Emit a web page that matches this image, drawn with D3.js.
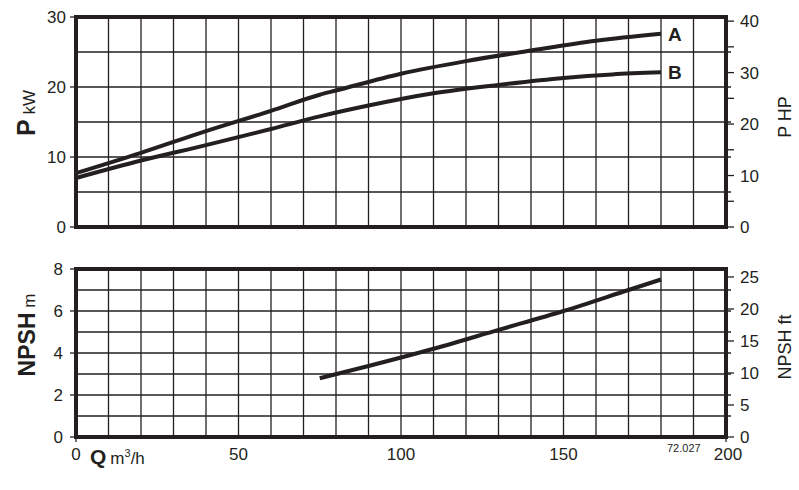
<!DOCTYPE html>
<html>
<head>
<meta charset="utf-8">
<script src="https://cdn.jsdelivr.net/npm/d3@7"></script>
<style>
  html, body { margin: 0; padding: 0; background: #fff; }
  svg { display: block; font-family: "Liberation Sans", Arial, Helvetica, sans-serif; }
</style>
</head>
<body>
<svg id="chart" width="799" height="490"></svg>
<script>
// ---- data ----
const flowA  = [0, 20, 40, 60, 75, 80, 100, 120, 140, 160, 180];
const powerA = [7.7, 10.6, 13.7, 16.6, 18.9, 19.5, 21.9, 23.7, 25.2, 26.6, 27.6];
const flowB  = [0, 20, 40, 60, 75, 90, 110, 130, 150, 165, 180];
const powerB = [7.0, 9.5, 11.7, 14.0, 15.8, 17.35, 19.1, 20.3, 21.3, 21.8, 22.1];
const flowNPSH = [75, 90, 110, 130, 150, 170, 180];
const npshM    = [2.8, 3.38, 4.2, 5.1, 6.0, 7.0, 7.5];

const qTicks     = [0, 50, 100, 150, 200];
const kwTicks    = [0, 10, 20, 30];
const hpTicks    = [0, 5, 10, 15, 20, 25, 30, 35, 40];
const hpLabels   = [0, 10, 20, 30, 40];
const npshMTicks = [0, 2, 4, 6, 8];
const npshFtTicks= [0, 5, 10, 15, 20, 25];
const curveLabels = ["A", "B"];

const KW_TO_HP = 1.36;
const M_TO_FT = 3.2808;
const ink = "#231f20";

const svg = d3.select("#chart");

const x = d3.scaleLinear().domain([0, 200]).range([76, 726]);
const yP = d3.scaleLinear().domain([0, 30]).range([227, 17]);
const yHP = d3.scaleLinear().domain([0, 30 * KW_TO_HP]).range([227, 17]);
const yN = d3.scaleLinear().domain([0, 8]).range([437, 269]);
const yFt = d3.scaleLinear().domain([0, 8 * M_TO_FT]).range([437, 269]);

function panel(yScale, hGridStep, yMax) {
  const g = svg.append("g");
  const [y0, y1] = yScale.range();
  g.selectAll("line.v").data(d3.range(10, 200, 10)).join("line")
    .attr("x1", d => x(d)).attr("x2", d => x(d))
    .attr("y1", y1).attr("y2", y0)
    .attr("stroke", ink).attr("stroke-width", 1.3);
  g.selectAll("line.h").data(d3.range(hGridStep, yMax, hGridStep)).join("line")
    .attr("x1", x(0)).attr("x2", x(200) + 5)
    .attr("y1", d => yScale(d)).attr("y2", d => yScale(d))
    .attr("stroke", ink).attr("stroke-width", 1.3);
  g.append("rect")
    .attr("x", x(0)).attr("y", y1)
    .attr("width", x(200) - x(0)).attr("height", y0 - y1)
    .attr("fill", "none").attr("stroke", ink).attr("stroke-width", 4);
  return g;
}

panel(yP, 5, 30);
panel(yN, 1, 8);

function leftAxis(yScale, ticks, labelX) {
  const g = svg.append("g");
  g.selectAll("line").data(ticks).join("line")
    .attr("x1", x(0) - 6).attr("x2", x(0))
    .attr("y1", d => yScale(d)).attr("y2", d => yScale(d))
    .attr("stroke", ink).attr("stroke-width", 1.3);
  g.selectAll("text").data(ticks).join("text")
    .attr("x", labelX).attr("y", d => yScale(d))
    .attr("dy", "0.36em")
    .attr("text-anchor", "end")
    .attr("font-size", 17).attr("fill", ink)
    .text(d => d);
}
leftAxis(yP, kwTicks, 66);
leftAxis(yN, npshMTicks, 63);

function rightAxis(yScale, ticks, labels) {
  const g = svg.append("g");
  g.selectAll("line").data(ticks).join("line")
    .attr("x1", x(200)).attr("x2", x(200) + 8)
    .attr("y1", d => yScale(d)).attr("y2", d => yScale(d))
    .attr("stroke", ink).attr("stroke-width", 1.3);
  g.selectAll("text").data(labels).join("text")
    .attr("x", 740).attr("y", d => yScale(d))
    .attr("dy", "0.36em")
    .attr("font-size", 17).attr("fill", ink)
    .text(d => d);
}
rightAxis(yHP, hpTicks, hpLabels);
rightAxis(yFt, npshFtTicks, npshFtTicks);

svg.append("g").selectAll("line").data([0, 200]).join("line")
  .attr("x1", d => x(d)).attr("x2", d => x(d))
  .attr("y1", yN(0)).attr("y2", yN(0) + 5)
  .attr("stroke", ink).attr("stroke-width", 1.3);
svg.append("g").selectAll("text").data(qTicks).join("text")
  .attr("x", d => x(d) + (d === 200 ? 2 : 0)).attr("y", 460)
  .attr("text-anchor", "middle")
  .attr("font-size", 17).attr("fill", ink)
  .text(d => d);

const lineGen = d3.line().x(d => x(d[0])).y(d => yP(d[1])).curve(d3.curveMonotoneX);
const seriesA = flowA.map((q, i) => [q, powerA[i]]);
const seriesB = flowB.map((q, i) => [q, powerB[i]]);
[seriesA, seriesB].forEach(s => {
  svg.append("path").datum(s)
    .attr("d", lineGen)
    .attr("fill", "none").attr("stroke", ink).attr("stroke-width", 4)
    .attr("stroke-linecap", "butt");
});
const npshLine = d3.line().x(d => x(d[0])).y(d => yN(d[1])).curve(d3.curveMonotoneX);
svg.append("path").datum(flowNPSH.map((q, i) => [q, npshM[i]]))
  .attr("d", npshLine)
  .attr("fill", "none").attr("stroke", ink).attr("stroke-width", 4);

[seriesA, seriesB].forEach((s, i) => {
  const last = s[s.length - 1];
  svg.append("text")
    .attr("x", x(last[0]) + 7).attr("y", yP(last[1]))
    .attr("dy", "0.36em")
    .attr("font-size", 19).attr("font-weight", "bold").attr("fill", ink)
    .text(curveLabels[i]);
});

function vTitle(cx, cy, parts) {
  const t = svg.append("text")
    .attr("transform", `translate(${cx},${cy}) rotate(-90)`)
    .attr("text-anchor", "middle").attr("fill", ink);
  parts.forEach(p => {
    t.append("tspan").attr("font-size", p.size).attr("font-weight", p.bold ? "bold" : "normal").text(p.text);
  });
}
vTitle(35, 113, [{text: "P", size: 25, bold: true}, {text: " kW", size: 17}]);
vTitle(35, 335, [{text: "NPSH", size: 23, bold: true}, {text: " m", size: 17}]);
vTitle(791, 117, [{text: "P HP", size: 18}]);
vTitle(791, 347, [{text: "NPSH ft", size: 18}]);

const qt = svg.append("text").attr("x", 90).attr("y", 464).attr("fill", ink);
qt.append("tspan").attr("font-size", 21).attr("font-weight", "bold").text("Q");
qt.append("tspan").attr("font-size", 17).attr("dx", 4).text("m");
qt.append("tspan").attr("font-size", 11).attr("dy", -7).text("3");
qt.append("tspan").attr("font-size", 17).attr("dy", 7).text("/h");

svg.append("text").attr("x", 667).attr("y", 452)
  .attr("font-size", 11).attr("fill", ink).text("72.027");
</script>
</body>
</html>
